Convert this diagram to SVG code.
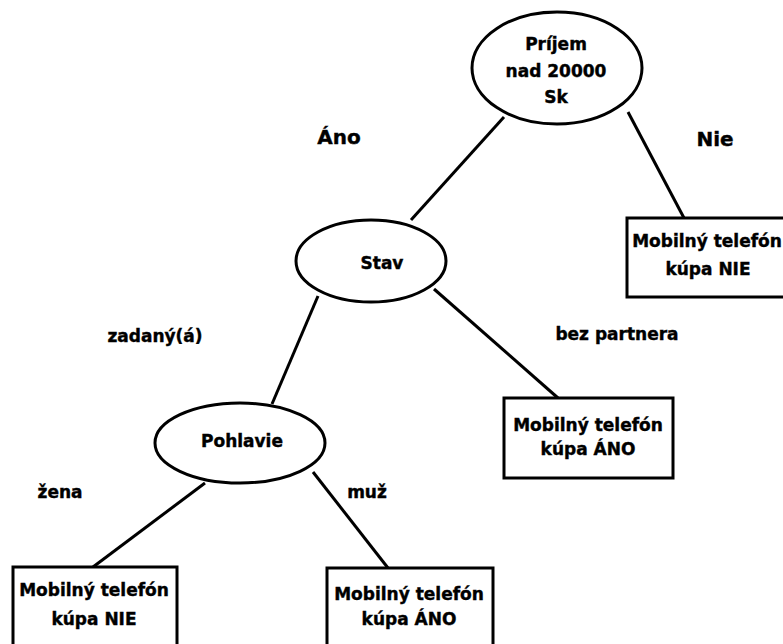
<svg xmlns="http://www.w3.org/2000/svg" width="783" height="644" viewBox="0 0 783 644">
<style>
.n{fill:#fff;stroke:#000;stroke-width:3}
.c line{stroke:#000;stroke-width:3}
text{font-family:"DejaVu Sans",sans-serif;font-weight:bold;font-size:17px;fill:#000;text-anchor:middle;stroke:#000;stroke-width:0.4}
.big{font-size:20px}
</style>
<rect width="783" height="644" fill="#fff"/>
<g class="c" id="connectors">
<line x1="504" y1="117" x2="411" y2="220"/>
<line x1="628" y1="112" x2="684" y2="218"/>
<line x1="318" y1="296" x2="272" y2="404"/>
<line x1="434" y1="289" x2="558" y2="398"/>
<line x1="205" y1="483" x2="93" y2="567"/>
<line x1="313" y1="472" x2="388" y2="568"/>
</g>
<g id="prijem">
<ellipse class="n" cx="557" cy="68" rx="85" ry="56"/>
<text x="556" y="50">Príjem</text>
<text x="556" y="77">nad 20000</text>
<text x="556" y="103">Sk</text>
</g>
<g id="stav">
<ellipse class="n" cx="371" cy="261" rx="75" ry="41"/>
<text x="382" y="269">Stav</text>
</g>
<g id="pohlavie">
<ellipse class="n" cx="240" cy="443" rx="85" ry="40"/>
<text x="242" y="447">Pohlavie</text>
</g>
<g id="nie-top">
<rect class="n" x="627" y="218" width="158" height="79"/>
<text x="707" y="247">Mobilný telefón</text>
<text x="708" y="275">kúpa NIE</text>
</g>
<g id="ano-mid">
<rect class="n" x="504" y="398" width="169" height="80"/>
<text x="588" y="431">Mobilný telefón</text>
<text x="588" y="455">kúpa ÁNO</text>
</g>
<g id="nie-bottom">
<rect class="n" x="13" y="567" width="164" height="80"/>
<text x="94" y="596">Mobilný telefón</text>
<text x="94" y="625">kúpa NIE</text>
</g>
<g id="ano-bottom">
<rect class="n" x="327" y="568" width="166" height="80"/>
<text x="409" y="600">Mobilný telefón</text>
<text x="409" y="625">kúpa ÁNO</text>
</g>
<g id="labels">
<text class="big" x="339" y="144">Áno</text>
<text class="big" x="715" y="146">Nie</text>
<text x="155" y="342">zadaný(á)</text>
<text x="617" y="340">bez partnera</text>
<text x="60" y="498">žena</text>
<text x="367" y="498">muž</text>
</g>
</svg>
